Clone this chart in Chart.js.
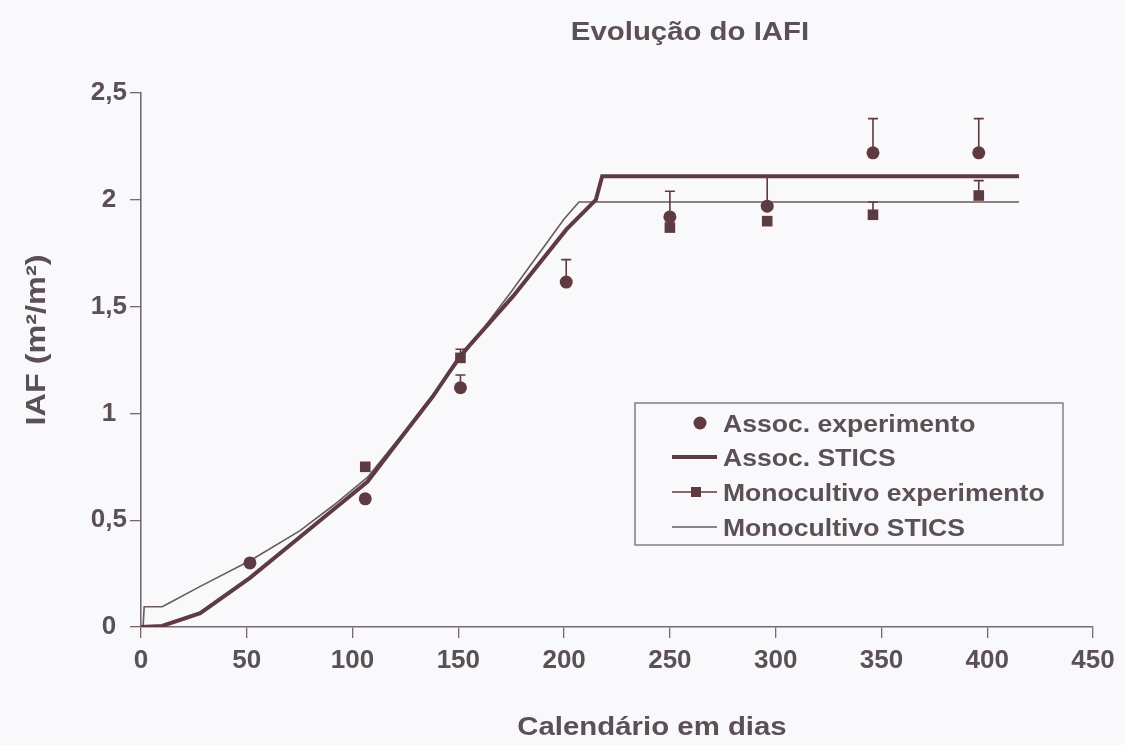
<!DOCTYPE html>
<html><head><meta charset="utf-8">
<script src="https://cdn.jsdelivr.net/npm/chart.js@4.4.1/dist/chart.umd.min.js"></script>
<style>html,body{margin:0;padding:0;background:#f9f8fa;overflow:hidden}#wrap{width:1125px;height:745px;position:relative}</style>
</head><body><div id="wrap"><canvas id="c" width="1125" height="745"></canvas></div>
<script>
// ---- data ----
const chartTitle = 'Evolução do IAFI';
const xAxisTitle = 'Calendário em dias';
const yAxisTitle = 'IAF (m²/m²)';
const xTickValues = [0, 50, 100, 150, 200, 250, 300, 350, 400, 450];
const yTickValues = [0, 0.5, 1, 1.5, 2, 2.5];
const yTickLabels = ['0', '0,5', '1', '1,5', '2', '2,5'];
const seriesNames = ['Assoc. experimento', 'Assoc. STICS', 'Monocultivo experimento', 'Monocultivo STICS'];

const assocSticsDays = [0, 10, 28, 51.5, 75, 91, 107, 124, 138, 151, 176, 201, 215, 218, 415];
const assocSticsIaf  = [0, 0.005, 0.065, 0.23, 0.42, 0.55, 0.68, 0.90, 1.08, 1.27, 1.55, 1.86, 2.0, 2.11, 2.11];

const monoSticsDays = [1, 1.5, 10, 12, 28, 51.5, 75, 91, 107, 125, 146, 175, 200, 207, 415];
const monoSticsIaf  = [0, 0.095, 0.095, 0.105, 0.19, 0.31, 0.45, 0.57, 0.70, 0.92, 1.19, 1.57, 1.91, 1.99, 1.99];

const assocExpDays = [51.5, 106, 151, 201, 250, 296, 346, 396];
const assocExpIaf  = [0.30, 0.60, 1.12, 1.615, 1.92, 1.97, 2.22, 2.22];
const assocExpTop  = [null, null, 1.18, 1.72, 2.04, 2.11, 2.38, 2.38];

const monoExpDays = [106, 151, 250, 296, 346, 396];
const monoExpIaf  = [0.75, 1.26, 1.87, 1.90, 1.93, 2.02];
const monoExpTop  = [null, 1.30, null, null, 1.99, 2.09];

// ---- styles ----
const FONT = '"Liberation Sans", Arial, Helvetica, sans-serif';
const INK = '#5e3a41';
const THIN = '#6a5a60';
const TEXT = '#5a5056';
const AXIS = '#766a70';
const BG = '#f9f8fa';
const STRETCH = 1.13;

const pts = (xs, ys) => xs.map((x, i) => ({x: x, y: ys[i]}));

function wideText(c, txt, x, y, align, sx) {
  const w = c.measureText(txt).width * sx;
  let x0 = x;
  if (align === 'center') x0 = x - w / 2;
  else if (align === 'right') x0 = x - w;
  c.save();
  c.translate(x0, y);
  c.scale(sx, 1);
  c.textAlign = 'left';
  c.fillText(txt, 0, 0);
  c.restore();
}

const bgPlugin = {
  id: 'bg',
  beforeDraw(chart) {
    const c = chart.ctx;
    c.save(); c.fillStyle = BG; c.fillRect(0, 0, chart.width, chart.height); c.restore();
  }
};

const errPlugin = {
  id: 'errbars',
  afterDatasetsDraw(chart) {
    const c = chart.ctx, xs = chart.scales.x, ys = chart.scales.y;
    chart.data.datasets.forEach(ds => {
      if (!ds.errTop) return;
      ds.data.forEach((p, i) => {
        const t = ds.errTop[i];
        if (t == null) return;
        const px = xs.getPixelForValue(p.x);
        const py = ys.getPixelForValue(p.y);
        const pt = ys.getPixelForValue(t);
        c.save();
        c.strokeStyle = INK; c.lineWidth = 1.6;
        c.beginPath();
        c.moveTo(px, py); c.lineTo(px, pt);
        c.moveTo(px - 5, pt); c.lineTo(px + 5, pt);
        c.stroke();
        c.restore();
      });
    });
  }
};

const textPlugin = {
  id: 'texts',
  afterDraw(chart) {
    const c = chart.ctx;
    c.save();
    c.fillStyle = TEXT;
    c.textBaseline = 'alphabetic';
    c.font = 'bold 26px ' + FONT;
    wideText(c, chartTitle, 690, 40, 'center', STRETCH);
    c.font = 'bold 26px ' + FONT;
    wideText(c, xAxisTitle, 652, 735, 'center', STRETCH);
    c.save();
    c.translate(45, 340);
    c.rotate(-Math.PI / 2);
    c.font = 'bold 27px ' + FONT;
    wideText(c, yAxisTitle, 0, 0, 'center', 1.2);
    c.restore();

    // legend
    const bx = 635, by = 403, bw = 428, bh = 142;
    c.strokeStyle = AXIS; c.lineWidth = 1.3;
    c.strokeRect(bx, by, bw, bh);
    const rows = [423, 457, 492, 527];
    const lx0 = 672, lx1 = 717;
    c.font = 'bold 23.5px ' + FONT;
    c.fillStyle = TEXT;
    rows.forEach((ry, i) => {
      wideText(c, seriesNames[i], 723, ry + 8.5, 'left', STRETCH);
    });
    // markers
    c.fillStyle = INK;
    c.beginPath(); c.arc(700, rows[0], 6.5, 0, Math.PI * 2); c.fill();
    c.strokeStyle = INK; c.lineWidth = 4;
    c.beginPath(); c.moveTo(lx0, rows[1]); c.lineTo(lx1, rows[1]); c.stroke();
    c.lineWidth = 1.6; c.strokeStyle = INK;
    c.beginPath(); c.moveTo(lx0, rows[2]); c.lineTo(lx1, rows[2]); c.stroke();
    c.fillRect(691, rows[2] - 5, 10, 10);
    c.strokeStyle = THIN; c.lineWidth = 1.6;
    c.beginPath(); c.moveTo(lx0, rows[3]); c.lineTo(lx1, rows[3]); c.stroke();
    c.restore();
  }
};

new Chart(document.getElementById('c'), {
  type: 'line',
  data: {
    datasets: [
      { label: seriesNames[1], data: pts(assocSticsDays, assocSticsIaf), borderColor: INK, borderWidth: 4,
        pointRadius: 0, tension: 0, fill: false, order: 3 },
      { label: seriesNames[3], data: pts(monoSticsDays, monoSticsIaf), borderColor: THIN, borderWidth: 1.6,
        pointRadius: 0, tension: 0, fill: false, order: 4 },
      { label: seriesNames[2], data: pts(monoExpDays, monoExpIaf), showLine: false, pointStyle: 'rect',
        pointRadius: 7.5, backgroundColor: INK, borderColor: INK, borderWidth: 0, errTop: monoExpTop, order: 2 },
      { label: seriesNames[0], data: pts(assocExpDays, assocExpIaf), showLine: false, pointStyle: 'circle',
        pointRadius: 6.5, backgroundColor: INK, borderColor: INK, borderWidth: 0, errTop: assocExpTop, order: 1 }
    ]
  },
  options: {
    responsive: false,
    animation: false,
    devicePixelRatio: 1,
    layout: { padding: { left: 0, right: 32, top: 93, bottom: 0 } },
    plugins: { legend: { display: false }, title: { display: false }, tooltip: { enabled: false } },
    scales: {
      x: {
        type: 'linear', min: 0, max: 450,
        afterBuildTicks(s) { s.ticks = xTickValues.map(v => ({value: v})); },
        afterFit(s) { s.height = 118; },
        ticks: { color: TEXT, font: { family: FONT, size: 26, weight: 'bold' }, padding: 7, maxRotation: 0,
                 callback: v => String(v) },
        grid: { display: true, drawOnChartArea: false, drawTicks: true, tickLength: 11, color: AXIS, lineWidth: 1.3 },
        border: { display: true, color: AXIS, width: 1.6 }
      },
      y: {
        type: 'linear', min: 0, max: 2.5,
        afterBuildTicks(s) { s.ticks = yTickValues.map(v => ({value: v})); },
        afterFit(s) { s.width = 141; },
        ticks: { color: TEXT, font: { family: FONT, size: 26, weight: 'bold' }, padding: 3, crossAlign: 'center',
                 callback: v => { const i = yTickValues.indexOf(v); return i >= 0 ? yTickLabels[i] : ''; } },
        grid: { display: true, drawOnChartArea: false, drawTicks: true, tickLength: 11, color: AXIS, lineWidth: 1.3 },
        border: { display: true, color: AXIS, width: 1.6 }
      }
    }
  },
  plugins: [bgPlugin, errPlugin, textPlugin]
});
</script>
</body></html>
